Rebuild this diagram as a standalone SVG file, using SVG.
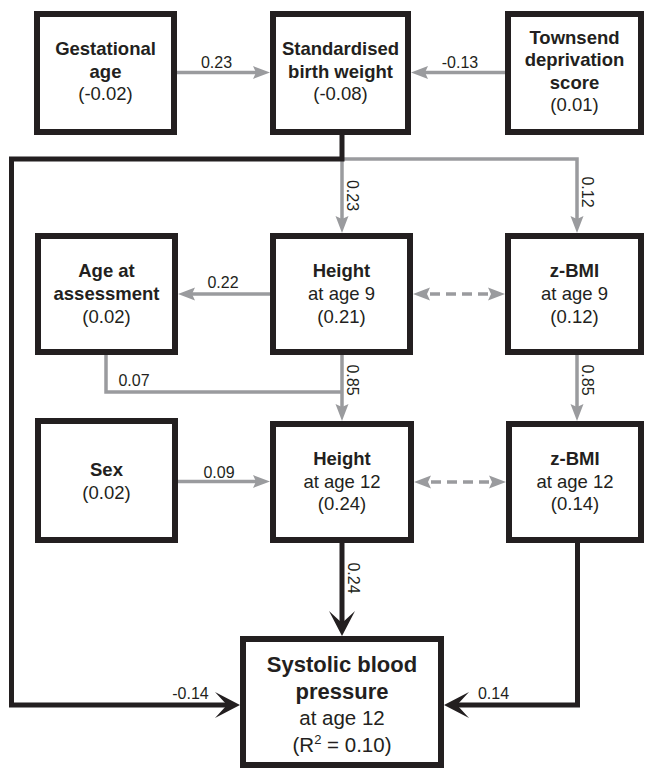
<svg xmlns="http://www.w3.org/2000/svg" width="646" height="771" viewBox="0 0 646 771">
<style>
  .box { fill: #ffffff; stroke: #231f20; stroke-width: 6; }
  .t { font-family: "Liberation Sans", Arial, Helvetica, sans-serif; font-size: 18.5px; fill: #231f20; text-anchor: middle; }
  .b { font-weight: bold; }
  .lbl { font-family: "Liberation Sans", Arial, Helvetica, sans-serif; font-size: 16px; fill: #231f20; text-anchor: middle; }
  .g { fill: none; stroke: #9a9b9e; stroke-width: 3.5; stroke-linejoin: miter; }
  .gd { fill: none; stroke: #9a9b9e; stroke-width: 3.5; stroke-dasharray: 10 6; stroke-dashoffset: 13; }
  .k { fill: none; stroke: #231f20; stroke-width: 5; stroke-linejoin: miter; }
</style>
<defs>
  <marker id="ag" markerUnits="userSpaceOnUse" viewBox="-4 -7 19 14" markerWidth="19" markerHeight="14" refX="0" refY="0" orient="auto-start-reverse">
    <path d="M14,0 L-3,-6.5 L0,0 L-3,6.5 Z" fill="#9a9b9e"/>
  </marker>
  <marker id="ab" markerUnits="userSpaceOnUse" viewBox="-13 -14 28 28" markerWidth="28" markerHeight="28" refX="0" refY="0" orient="auto">
    <path d="M13,0 L-12,-13 L0,0 L-12,13 Z" fill="#231f20"/>
  </marker>
</defs>
<rect width="646" height="771" fill="#ffffff"/>

<g id="connectors">
  <path class="g" d="M177,72.5 H256" marker-end="url(#ag)"/>
  <path class="g" d="M505,72.5 H425" marker-end="url(#ag)"/>
  <path class="g" d="M342,159 V219" marker-end="url(#ag)"/>
  <path class="g" d="M342,159 H577 V219" marker-end="url(#ag)"/>
  <path class="g" d="M270,294 H192" marker-end="url(#ag)"/>
  <path class="gd" d="M427,294 H491" marker-start="url(#ag)" marker-end="url(#ag)"/>
  <path class="g" d="M106,355 V392 H342"/>
  <path class="g" d="M342,355 V407" marker-end="url(#ag)"/>
  <path class="g" d="M577,355 V407" marker-end="url(#ag)"/>
  <path class="g" d="M178,481.5 H256" marker-end="url(#ag)"/>
  <path class="gd" d="M428,482 H492" marker-start="url(#ag)" marker-end="url(#ag)"/>
  <path class="k" d="M342,135 V159 H11.5 V705 H227" marker-end="url(#ab)"/>
  <path class="k" d="M342,543 V623" marker-end="url(#ab)"/>
  <path class="k" d="M577.5,543 V705 H457" marker-end="url(#ab)"/>

  <text class="lbl" x="216.5" y="67.5">0.23</text>
  <text class="lbl" x="460" y="67.5">-0.13</text>
  <text class="lbl" x="223" y="288">0.22</text>
  <text class="lbl" x="134" y="386">0.07</text>
  <text class="lbl" x="219" y="477.5">0.09</text>
  <text class="lbl" x="190.5" y="699">-0.14</text>
  <text class="lbl" x="493.5" y="699">0.14</text>
  <text class="lbl" transform="translate(347,195.5) rotate(90)">0.23</text>
  <text class="lbl" transform="translate(582,192) rotate(90)">0.12</text>
  <text class="lbl" transform="translate(347,380) rotate(90)">0.85</text>
  <text class="lbl" transform="translate(582,380) rotate(90)">0.85</text>
  <text class="lbl" transform="translate(348,578) rotate(90)">0.24</text>
</g>

<g id="gestational-age">
  <rect class="box" x="37" y="14" width="137" height="118"/>
  <text class="t b" x="105.5" y="55">Gestational</text>
  <text class="t b" x="105.5" y="77.5">age</text>
  <text class="t" x="105.5" y="100">(-0.02)</text>
</g>

<g id="birth-weight">
  <rect class="box" x="273" y="14" width="135" height="118"/>
  <text class="t b" x="340.5" y="55">Standardised</text>
  <text class="t b" x="340.5" y="77.5">birth weight</text>
  <text class="t" x="340.5" y="100">(-0.08)</text>
</g>

<g id="townsend">
  <rect class="box" x="508" y="14" width="133" height="118"/>
  <text class="t b" x="574.5" y="43.5">Townsend</text>
  <text class="t b" x="574.5" y="66">deprivation</text>
  <text class="t b" x="574.5" y="88.5">score</text>
  <text class="t" x="574.5" y="111">(0.01)</text>
</g>

<g id="age-at-assessment">
  <rect class="box" x="38" y="236" width="137" height="116"/>
  <text class="t b" x="106.5" y="277">Age at</text>
  <text class="t b" x="106.5" y="299.5">assessment</text>
  <text class="t" x="106.5" y="322.5">(0.02)</text>
</g>

<g id="height-9">
  <rect class="box" x="273" y="236" width="137" height="116"/>
  <text class="t b" x="341.5" y="277">Height</text>
  <text class="t" x="341.5" y="299.5">at age 9</text>
  <text class="t" x="341.5" y="322.5">(0.21)</text>
</g>

<g id="zbmi-9">
  <rect class="box" x="508" y="236" width="133" height="116"/>
  <text class="t b" x="574.5" y="277">z-BMI</text>
  <text class="t" x="574.5" y="299.5">at age 9</text>
  <text class="t" x="574.5" y="322.5">(0.12)</text>
</g>

<g id="sex">
  <rect class="box" x="38" y="421" width="137" height="119"/>
  <text class="t b" x="106.5" y="476">Sex</text>
  <text class="t" x="106.5" y="499">(0.02)</text>
</g>

<g id="height-12">
  <rect class="box" x="273" y="424" width="138" height="116"/>
  <text class="t b" x="342" y="465">Height</text>
  <text class="t" x="342" y="487.5">at age 12</text>
  <text class="t" x="342" y="510">(0.24)</text>
</g>

<g id="zbmi-12">
  <rect class="box" x="509" y="424" width="132" height="116"/>
  <text class="t b" x="575" y="465">z-BMI</text>
  <text class="t" x="575" y="487.5">at age 12</text>
  <text class="t" x="575" y="510">(0.14)</text>
</g>

<g id="systolic-bp">
  <rect class="box" x="243" y="639" width="198" height="126"/>
  <text class="t b" x="342" y="672" style="font-size:22px">Systolic blood</text>
  <text class="t b" x="342" y="698.5" style="font-size:22px">pressure</text>
  <text class="t" x="342" y="725" style="font-size:20.5px">at age 12</text>
  <text class="t" x="342" y="751.5" style="font-size:20.5px">(R<tspan dy="-8" style="font-size:13px">2</tspan><tspan dy="8"> = 0.10)</tspan></text>
</g>
</svg>
